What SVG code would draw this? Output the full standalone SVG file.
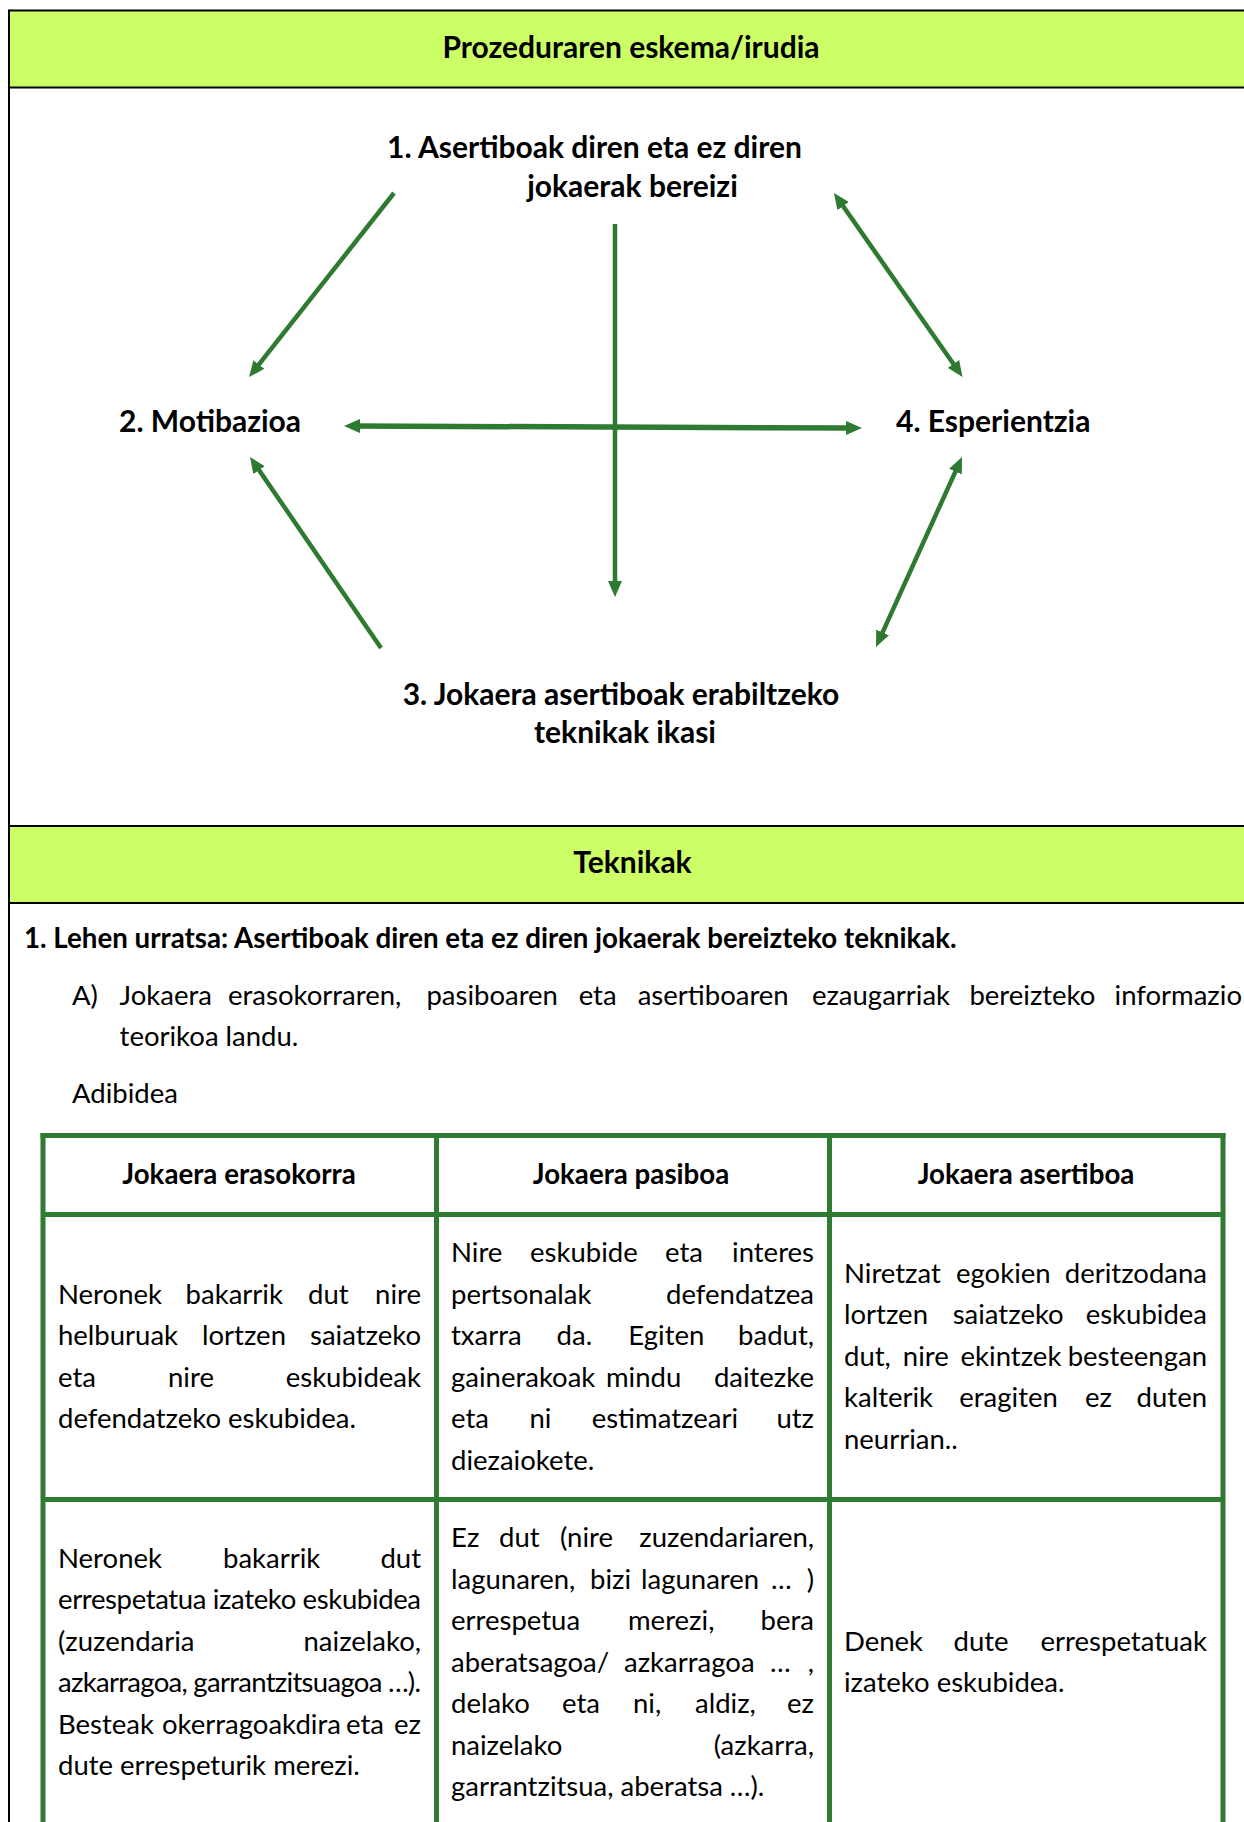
<svg xmlns="http://www.w3.org/2000/svg" width="1244" height="1822" viewBox="0 0 1244 1822">
<style>
text { font-family: Lato, "Liberation Sans", sans-serif; fill: #000; }
.t { font-size: 27.5px; }
.tb { font-size: 27.7px; font-weight: bold; }
.h { font-size: 30px; font-weight: bold; }
.e { text-anchor: end; }
.m { text-anchor: middle; }
.conn { stroke: #2e7a30; stroke-width: 4.5; fill: none; }
.thick { stroke-width: 5.5; }
.tbl { stroke: #2e7b31; stroke-width: 5; fill: none; }
.blk { stroke: #000; stroke-width: 2; fill: none; }
.lime { fill: #ccff66; }
</style>
<defs>
<marker id="ah" markerUnits="userSpaceOnUse" markerWidth="16" markerHeight="14" viewBox="0 0 16 14" refX="6" refY="7" orient="auto-start-reverse">
<path d="M0,0 L16,7 L0,14 Z" fill="#2e7a30"/>
</marker>
</defs>
<rect width="1244" height="1822" fill="#fff"/>

<g id="frame">
<rect class="lime" x="9" y="10.5" width="1235" height="77"/>
<rect class="lime" x="9" y="826" width="1235" height="77"/>
<line class="blk" x1="9" y1="10.5" x2="1244" y2="10.5"/>
<line class="blk" x1="9" y1="87.5" x2="1244" y2="87.5"/>
<line class="blk" x1="9" y1="826" x2="1244" y2="826"/>
<line class="blk" x1="9" y1="903" x2="1244" y2="903"/>
<line class="blk" x1="9" y1="9.5" x2="9" y2="1822"/>
</g>

<g id="header1">
<text class="h m" x="631" y="58">Prozeduraren eskema/irudia</text>
</g>

<g id="node1">
<text class="h m" x="594.5" y="158">1. Asertiboak diren eta ez diren</text>
<text class="h m" x="632.5" y="197">jokaerak bereizi</text>
</g>
<g id="node2">
<text class="h" x="119" y="432">2. Motibazioa</text>
</g>
<g id="node3">
<text class="h m" x="621" y="705">3. Jokaera asertiboak erabiltzeko</text>
<text class="h m" x="625" y="743">teknikak ikasi</text>
</g>
<g id="node4">
<text class="h" x="896" y="432">4. Esperientzia</text>
</g>

<g id="connectors">
<path class="conn" d="M394,193 L255.2,369.2" marker-end="url(#ah)"/>
<path class="conn" d="M839.7,201.2 L956.8,368.8" marker-start="url(#ah)" marker-end="url(#ah)"/>
<path class="conn thick" d="M354,426 L852,428" marker-start="url(#ah)" marker-end="url(#ah)"/>
<path class="conn" d="M615,224 L615,587" marker-end="url(#ah)"/>
<path class="conn" d="M381,648 L255.7,465.2" marker-end="url(#ah)"/>
<path class="conn" d="M957.9,466.1 L880.1,637.9" marker-start="url(#ah)" marker-end="url(#ah)"/>
</g>

<g id="header2">
<text class="h m" x="632.5" y="873">Teknikak</text>
</g>

<g id="intro">
<text class="tb" x="24" y="948">1. Lehen urratsa: Asertiboak diren eta ez diren jokaerak bereizteko teknikak.</text>
<text class="t" y="1005"><tspan x="72">A)</tspan><tspan x="119.6">Jokaera</tspan><tspan x="228">erasokorraren,</tspan><tspan x="426.4">pasiboaren</tspan><tspan x="578.7">eta</tspan><tspan x="637.7">asertiboaren</tspan><tspan x="811.9">ezaugarriak</tspan><tspan x="969.4">bereizteko</tspan></text>
<text class="t e" x="1242" y="1005">informazio</text>
<text class="t" x="119.6" y="1046">teorikoa landu.</text>
<text class="t" x="72" y="1103">Adibidea</text>
</g>

<g id="table">
<line class="tbl" x1="40.5" y1="1135.5" x2="1225.5" y2="1135.5"/>
<line class="tbl" x1="43" y1="1214.5" x2="1223" y2="1214.5"/>
<line class="tbl" x1="43" y1="1499.5" x2="1223" y2="1499.5"/>
<line class="tbl" x1="43" y1="1133" x2="43" y2="1822"/>
<line class="tbl" x1="436.5" y1="1133" x2="436.5" y2="1822"/>
<line class="tbl" x1="829.5" y1="1133" x2="829.5" y2="1822"/>
<line class="tbl" x1="1223" y1="1133" x2="1223" y2="1822"/>

<g id="th">
<text class="tb m" x="239" y="1184">Jokaera erasokorra</text>
<text class="tb m" x="631" y="1184">Jokaera pasiboa</text>
<text class="tb m" x="1026" y="1184">Jokaera asertiboa</text>
</g>

<g id="r2c1">
<text class="t" y="1303.5"><tspan x="58">Neronek</tspan><tspan x="185.6">bakarrik</tspan><tspan x="308.1">dut</tspan></text>
<text class="t e" x="421" y="1303.5">nire</text>
<text class="t" y="1345"><tspan x="58">helburuak</tspan><tspan x="202">lortzen</tspan></text>
<text class="t e" x="421" y="1345">saiatzeko</text>
<text class="t" y="1386.5"><tspan x="58">eta</tspan><tspan x="168">nire</tspan></text>
<text class="t e" x="421" y="1386.5">eskubideak</text>
<text class="t" x="58" y="1428">defendatzeko eskubidea.</text>
</g>

<g id="r2c2">
<text class="t" y="1262"><tspan x="451">Nire</tspan><tspan x="530">eskubide</tspan><tspan x="665">eta</tspan></text>
<text class="t e" x="814" y="1262">interes</text>
<text class="t" x="451" y="1303.5">pertsonalak</text>
<text class="t e" x="814" y="1303.5">defendatzea</text>
<text class="t" y="1345"><tspan x="451">txarra</tspan><tspan x="556.6">da.</tspan><tspan x="628.3">Egiten</tspan></text>
<text class="t e" x="814" y="1345">badut,</text>
<text class="t" y="1386.5"><tspan x="451">gainerakoak</tspan><tspan x="606">mindu</tspan></text>
<text class="t e" x="814" y="1386.5">daitezke</text>
<text class="t" y="1428"><tspan x="451">eta</tspan><tspan x="529.4">ni</tspan><tspan x="591.7">estimatzeari</tspan></text>
<text class="t e" x="814" y="1428">utz</text>
<text class="t" x="451" y="1469.5">diezaiokete.</text>
</g>

<g id="r2c3">
<text class="t" y="1282.75"><tspan x="844">Niretzat</tspan><tspan x="956">egokien</tspan></text>
<text class="t e" x="1207" y="1282.75">deritzodana</text>
<text class="t" y="1324.25"><tspan x="844">lortzen</tspan><tspan x="952.7">saiatzeko</tspan></text>
<text class="t e" x="1207" y="1324.25">eskubidea</text>
<text class="t" y="1365.75"><tspan x="844">dut,</tspan><tspan x="902.8">nire</tspan><tspan x="960.6">ekintzek</tspan></text>
<text class="t e" x="1207" y="1365.75">besteengan</text>
<text class="t" y="1407.25"><tspan x="844">kalterik</tspan><tspan x="959.3">eragiten</tspan><tspan x="1084.9">ez</tspan></text>
<text class="t e" x="1207" y="1407.25">duten</text>
<text class="t" x="844" y="1448.75">neurrian..</text>
</g>

<g id="r3c1">
<text class="t" y="1567.75"><tspan x="58">Neronek</tspan><tspan x="223">bakarrik</tspan></text>
<text class="t e" x="421" y="1567.75">dut</text>
<text class="t" x="58" y="1609.25" textLength="363" lengthAdjust="spacing">errespetatua izateko eskubidea</text>
<text class="t" x="58" y="1650.75">(zuzendaria</text>
<text class="t e" x="421" y="1650.75">naizelako,</text>
<text class="t" x="58" y="1692.25" textLength="363" lengthAdjust="spacing">azkarragoa, garrantzitsuagoa …).</text>
<text class="t" y="1733.75"><tspan x="58">Besteak</tspan><tspan x="162">okerragoakdira</tspan><tspan x="346">eta</tspan></text>
<text class="t e" x="421" y="1733.75">ez</text>
<text class="t" x="58" y="1775.25">dute errespeturik merezi.</text>
</g>

<g id="r3c2">
<text class="t" y="1547"><tspan x="451">Ez</tspan><tspan x="499">dut</tspan><tspan x="560">(nire</tspan></text>
<text class="t e" x="814" y="1547">zuzendariaren,</text>
<text class="t" y="1588.5"><tspan x="451">lagunaren,</tspan><tspan x="590">bizi</tspan><tspan x="641">lagunaren</tspan><tspan x="771">…</tspan></text>
<text class="t e" x="814" y="1588.5">)</text>
<text class="t" y="1630"><tspan x="451">errespetua</tspan><tspan x="628">merezi,</tspan></text>
<text class="t e" x="814" y="1630">bera</text>
<text class="t" y="1671.5"><tspan x="451">aberatsagoa/</tspan><tspan x="624">azkarragoa</tspan><tspan x="770">…</tspan></text>
<text class="t e" x="814" y="1671.5">,</text>
<text class="t" y="1713"><tspan x="451">delako</tspan><tspan x="562">eta</tspan><tspan x="633">ni,</tspan><tspan x="695">aldiz,</tspan></text>
<text class="t e" x="814" y="1713">ez</text>
<text class="t" x="451" y="1754.5">naizelako</text>
<text class="t e" x="814" y="1754.5">(azkarra,</text>
<text class="t" x="451" y="1796">garrantzitsua, aberatsa …).</text>
</g>

<g id="r3c3">
<text class="t" y="1650.75"><tspan x="844">Denek</tspan><tspan x="953.5">dute</tspan></text>
<text class="t e" x="1207" y="1650.75">errespetatuak</text>
<text class="t" x="844" y="1692.25">izateko eskubidea.</text>
</g>
</g>
</svg>
